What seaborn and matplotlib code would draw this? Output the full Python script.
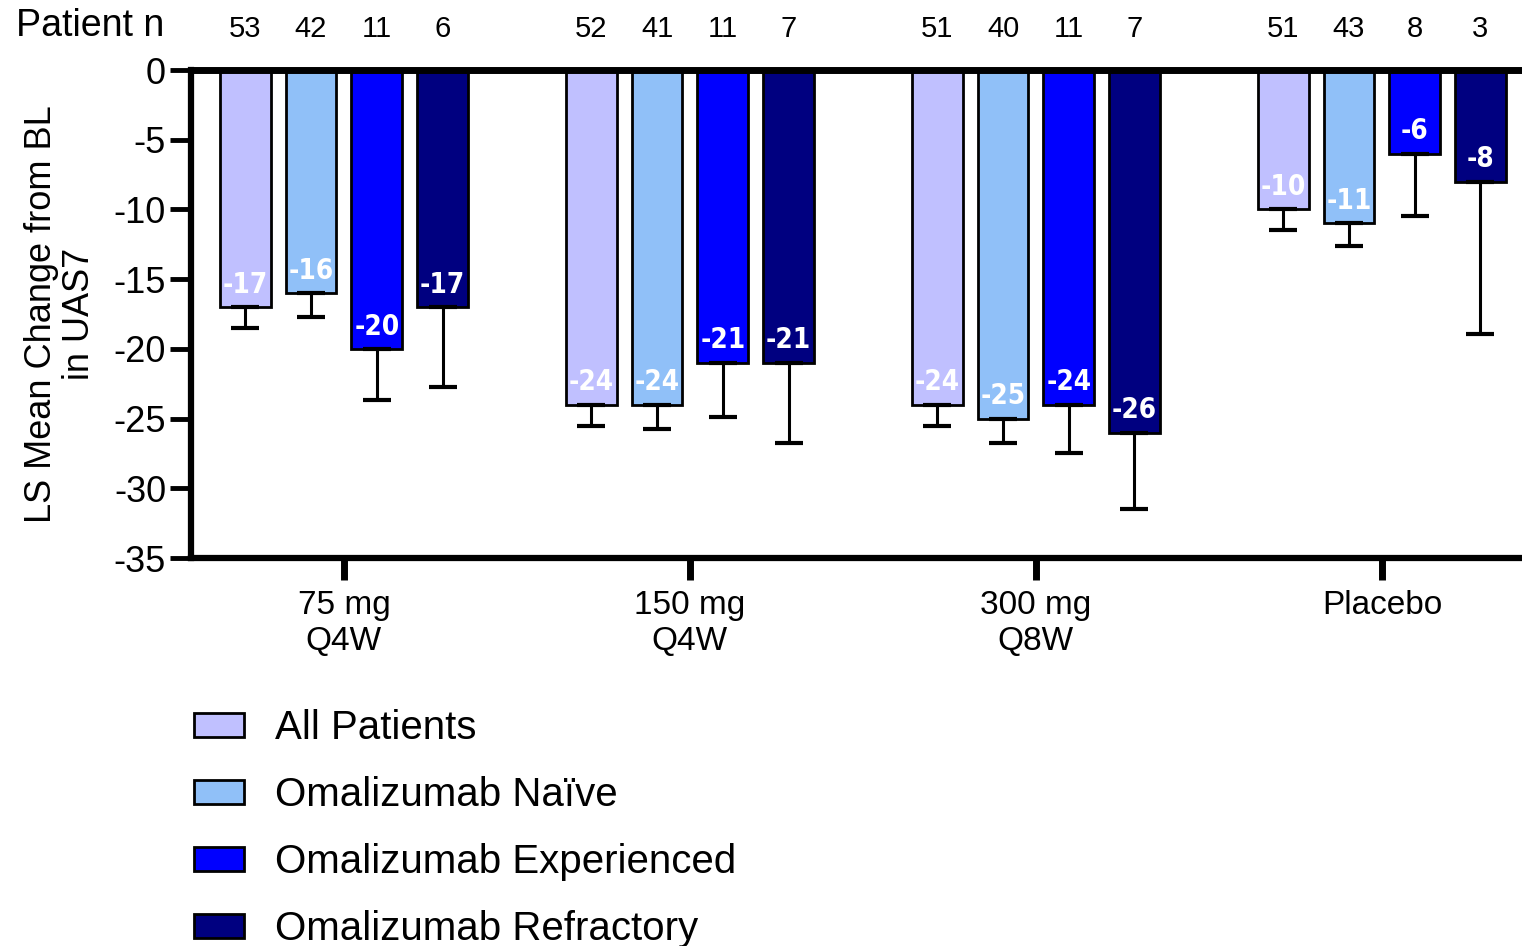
import matplotlib
matplotlib.use("Agg")
import matplotlib.pyplot as plt
import seaborn as sns
import pandas as pd
from matplotlib.patches import Patch
from matplotlib import font_manager

# ---- data ----
groups = ["75 mg\nQ4W", "150 mg\nQ4W", "300 mg\nQ8W", "Placebo"]
subgroups = ["All Patients", "Omalizumab Naïve", "Omalizumab Experienced", "Omalizumab Refractory"]
means = {
    "All Patients":           [-17, -24, -24, -10],
    "Omalizumab Naïve":       [-16, -24, -25, -11],
    "Omalizumab Experienced": [-20, -21, -24, -6],
    "Omalizumab Refractory":  [-17, -21, -26, -8],
}
errors = {
    "All Patients":           [1.5, 1.5, 1.5, 1.5],
    "Omalizumab Naïve":       [1.7, 1.75, 1.75, 1.6],
    "Omalizumab Experienced": [3.7, 3.9, 3.5, 4.5],
    "Omalizumab Refractory":  [5.7, 5.75, 5.5, 10.9],
}
patient_n = {
    "All Patients":           [53, 52, 51, 51],
    "Omalizumab Naïve":       [42, 41, 40, 43],
    "Omalizumab Experienced": [11, 11, 11, 8],
    "Omalizumab Refractory":  [6, 7, 7, 3],
}
colors = ["#c0c0ff", "#90c0f8", "#0000ff", "#000080"]
yticks = [0, -5, -10, -15, -20, -25, -30, -35]

rows = []
for s in subgroups:
    for g, v in zip(groups, means[s]):
        rows.append({"group": g, "subgroup": s, "value": v})
df = pd.DataFrame(rows)

sns.set_style("white")
plt.rcParams["font.family"] = ["Liberation Sans", "DejaVu Sans"]
plt.rcParams["axes.unicode_minus"] = False
for k in ["text.color", "axes.labelcolor", "xtick.color", "ytick.color"]:
    plt.rcParams[k] = "black"

# pick a condensed bold font for bar labels if available
fonts = font_manager.fontManager.ttflist
names = {f.name for f in fonts}
label_font = dict(family=["Liberation Sans", "DejaVu Sans"], fontsize=20)
if "Liberation Sans Narrow" in names:
    label_font = dict(family=["Liberation Sans Narrow", "DejaVu Sans"], fontsize=23)
elif any(f.name == "DejaVu Sans" and str(f.stretch) in ("condensed", "semi-condensed") for f in fonts):
    label_font = dict(family=["DejaVu Sans"], fontstretch="condensed", fontsize=20)

fig = plt.figure(figsize=(15.22, 9.46), dpi=100)
ax = fig.add_axes([191 / 1522, 1 - 558 / 946, 1 - 191 / 1522, 488 / 946])

sns.barplot(data=df, x="group", y="value", hue="subgroup", order=groups,
            hue_order=subgroups, palette=colors, saturation=1, width=0.76, gap=0.23,
            edgecolor="black", linewidth=2, errorbar=None, legend=False, ax=ax)

for i, s in enumerate(subgroups):
    cont = ax.containers[i]
    xs = [p.get_x() + p.get_width() / 2 for p in cont.patches]
    ax.errorbar(xs, means[s], yerr=[errors[s], [0] * len(xs)], fmt="none",
                ecolor="black", elinewidth=2.2, capsize=10, capthick=3, zorder=1)
    for x, v in zip(xs, means[s]):
        ax.annotate(f"{v}", (x, v), xytext=(0, 6), textcoords="offset points",
                    ha="center", va="bottom", color="white",
                    fontweight="bold", **label_font)
    for x, n in zip(xs, patient_n[s]):
        ax.annotate(f"{n}", (x, 1.084), xycoords=("data", "axes fraction"),
                    ha="center", va="center", fontsize=21, color="black",
                    annotation_clip=False)

ax.set_ylim(-35, 0)
ax.set_xlim(-0.442, 3.405)
ax.set_yticks(yticks)
ax.set_yticklabels([str(t) for t in yticks], fontsize=26)
ax.set_xticks(range(len(groups)))
ax.set_xticklabels(groups, fontsize=24, linespacing=1.2)
ax.tick_params(axis="y", direction="out", length=15, width=3.5, pad=3, left=True)
ax.tick_params(axis="x", direction="out", length=16, width=5, pad=7, bottom=True)
ax.set_xlabel("")
ax.set_ylabel("LS Mean Change from BL\nin UAS7", fontsize=26, labelpad=12, linespacing=1.1)

for side in ["top", "right"]:
    ax.spines[side].set_visible(False)
for side in ["left", "bottom"]:
    ax.spines[side].set_linewidth(4.5)
    ax.spines[side].set_color("black")
ax.axhline(0, color="black", linewidth=5, zorder=5, clip_on=False)

fig.text(90 / 1522, 1 - 26 / 946, "Patient n", fontsize=27, ha="center", va="center")

handles = [Patch(facecolor=c, edgecolor="black", linewidth=2, label=s)
           for c, s in zip(colors, subgroups)]
fig.legend(handles=handles, loc="upper left", bbox_to_anchor=(178 / 1522, 1 - 693 / 946),
           frameon=False, fontsize=29, handlelength=1.25, handleheight=0.55,
           handletextpad=0.75, labelspacing=0.72, borderaxespad=0)

fig.savefig("out.png", dpi=100)
